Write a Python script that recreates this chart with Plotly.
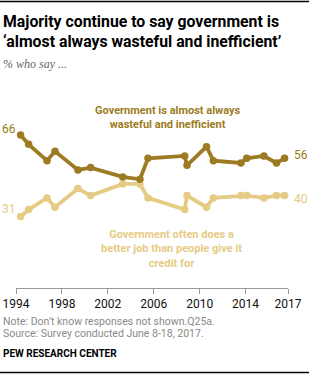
import plotly.graph_objects as go

# ---- data ----
years = [1994.4, 1995.1, 1996.7, 1997.4, 1999.4, 2000.5, 2003.3, 2004.8, 2005.5,
         2008.7, 2008.9, 2010.6, 2011.2, 2013.6, 2014.1, 2015.6, 2016.7, 2017.4]
wasteful = [66, 62, 55, 59, 51, 52, 48, 47, 56, 57, 53, 61, 55, 54, 56, 57, 54, 56]
better_job = [31, 34, 39, 35, 43, 40, 45, 45, 39, 34, 40, 35, 39, 40, 40, 39, 40, 40]
tick_vals = [1994, 1998, 2002, 2006, 2010, 2014, 2017.7]
tick_text = ["1994", "1998", "2002", "2006", "2010", "2014", "2017"]

DARK = "#9C7B22"
LIGHT = "#E6CB84"
W, H = 309, 375
L, R = 16, 21          # margins (px)
T, B = 0, 87
plot_top, plot_bot = T, H - B
PX_PER = 2.33
y_top = 66 + (135 - plot_top) / PX_PER
y_bot = 66 - (plot_bot - 135) / PX_PER


def xp(px):
    return (px - L) / (W - L - R)


def yp(py):
    return (plot_bot - py) / (plot_bot - plot_top)


fig = go.Figure()
for vals, col in [(better_job, LIGHT), (wasteful, DARK)]:
    fig.add_trace(go.Scatter(
        x=years, y=vals, mode="lines+markers",
        line=dict(color=col, width=3.8),
        marker=dict(color=col, size=7.5),
        cliponaxis=False, hoverinfo="skip", showlegend=False))

ann = []


def txt(text, x, y, size, color, bold=False, family="Roboto", xanchor="left",
        italic=False, align="left"):
    t = text
    if italic:
        t = f"<i>{t}</i>"
    f = dict(size=size, color=color, family=family)
    if bold:
        f["weight"] = "bold"
    ann.append(dict(text=t, x=xp(x), y=yp(y), xref="paper", yref="paper",
                    xanchor=xanchor, yanchor="middle", showarrow=False, align=align,
                    font=f))


txt("Majority continue to say government is", 1, 22, 15.8, "#000", bold=True)
txt("\u2018almost always wasteful and inefficient\u2019", 1, 41, 15.8, "#000", bold=True)
txt("% who say ...", 1, 64, 12, "#666", family="Liberation Serif", italic=True)

txt("Government is almost always<br>wasteful and inefficient", 168, 117, 11, DARK, bold=True, xanchor="center", align="center")
txt("Government often does a<br>better job than people give it<br>credit for", 171, 248.5, 11, LIGHT, bold=True, xanchor="center", align="center")

txt(str(wasteful[0]), 18, 129, 12, DARK, xanchor="right")
txt(str(better_job[0]), 18, 209, 12, LIGHT, xanchor="right")
txt(str(wasteful[-1]), 292, 155, 12, DARK)
txt(str(better_job[-1]), 292, 199, 12, LIGHT)

txt("Note: Don\u2019t know responses not shown.Q25a.", 1, 321, 10.5, "#8a8a8a")
txt("Source: Survey conducted June 8-18, 2017.", 1, 333, 10.5, "#8a8a8a")
txt("PEW RESEARCH CENTER", 1, 353, 10, "#000", bold=True)

shapes = [
    dict(type="line", xref="paper", yref="paper", x0=xp(0), x1=xp(W), y0=yp(1.5), y1=yp(1.5),
         line=dict(color="#000", width=1.5)),
    dict(type="line", xref="paper", yref="paper", x0=xp(0), x1=xp(W), y0=yp(372.5), y1=yp(372.5),
         line=dict(color="#000", width=1.5)),
]

fig.update_layout(
    width=W, height=H, margin=dict(l=L, r=R, t=T, b=B),
    paper_bgcolor="white", plot_bgcolor="white",
    annotations=ann, shapes=shapes,
    xaxis=dict(range=[1994, 2017.7], tickvals=tick_vals, ticktext=tick_text,
               showgrid=False, zeroline=False, showline=True, linecolor="#999", linewidth=1,
               ticks="outside", ticklen=5, tickcolor="#999",
               tickfont=dict(size=12, color="#111", family="Roboto")),
    yaxis=dict(range=[y_bot, y_top], visible=False, fixedrange=True),
)

fig.write_html("out.html")
